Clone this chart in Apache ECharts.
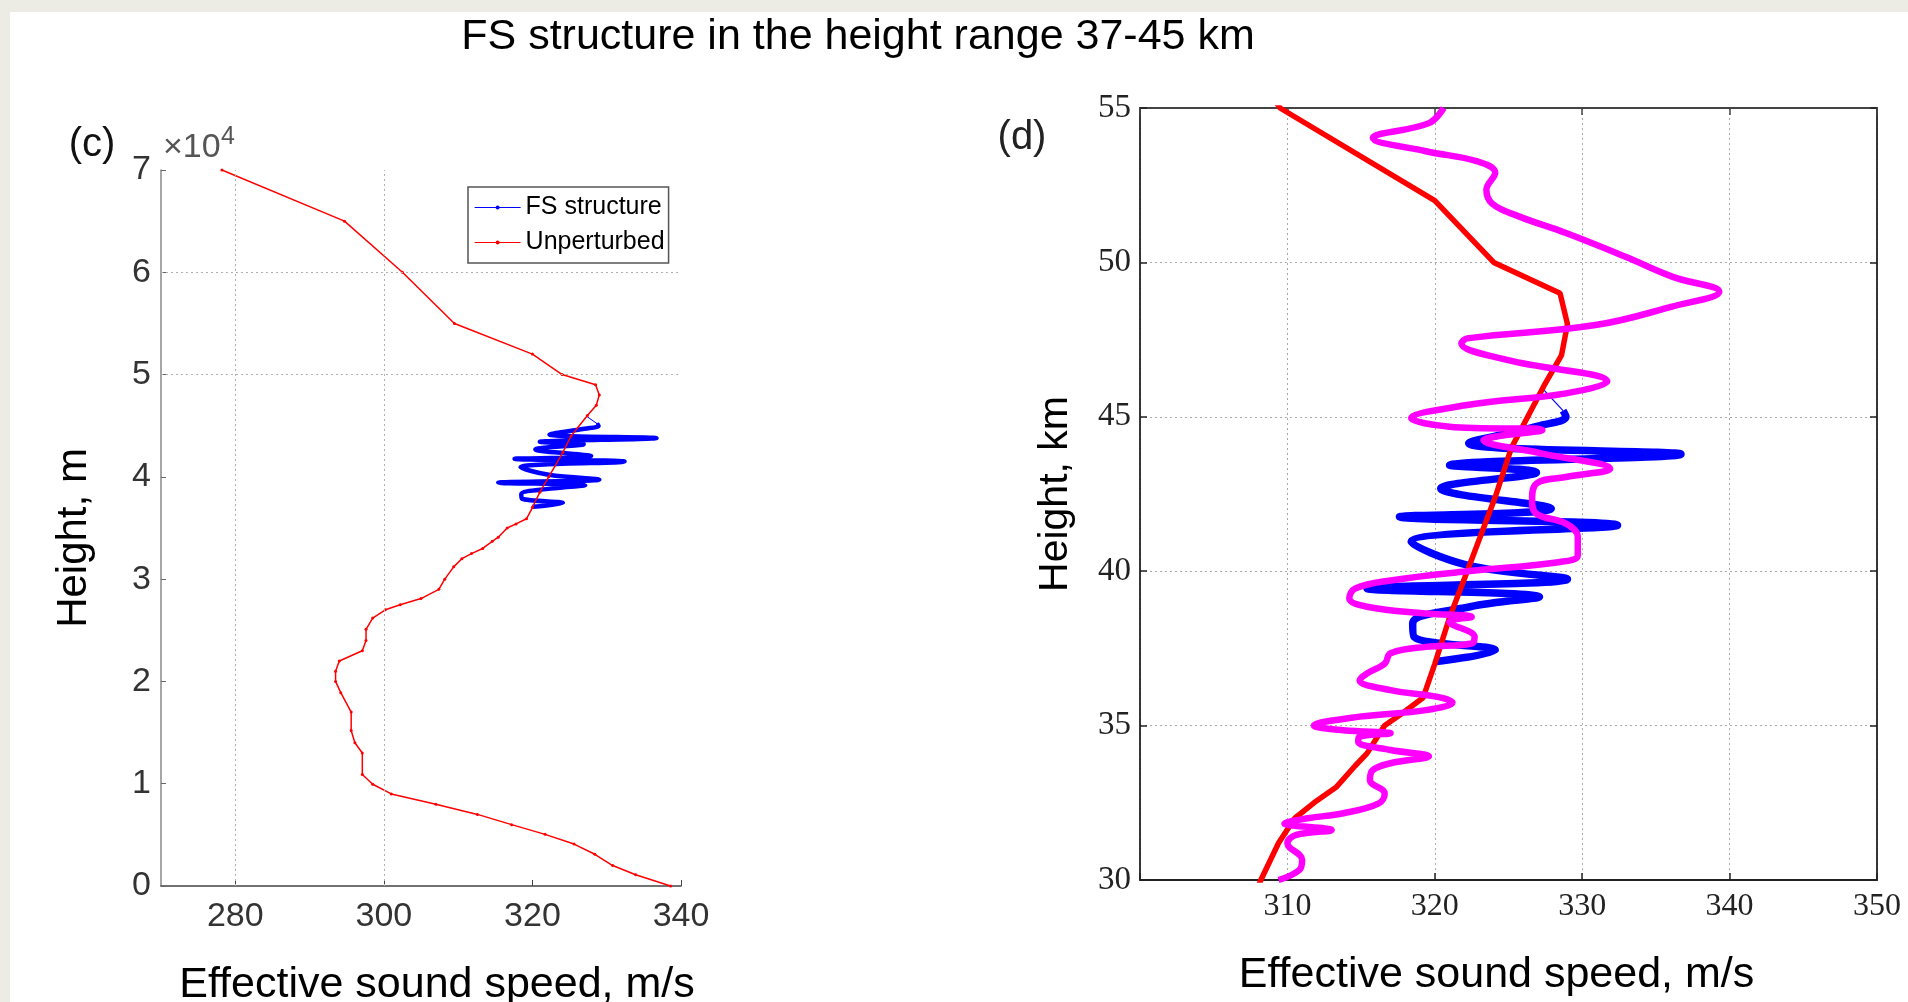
<!DOCTYPE html>
<html>
<head>
<meta charset="utf-8">
<script src="https://cdn.jsdelivr.net/npm/echarts@6/dist/echarts.min.js"></script>
<style>
  html, body { margin: 0; padding: 0; background: #ecece4; }
  #chart { width: 1908px; height: 1002px; }
</style>
</head>
<body>
<div id="chart"></div>
<script>
// ---------- data ----------
// Unperturbed effective sound speed profile (height km, speed m/s)
const unpertHeightKm = [0, 1.1, 2.0, 3.1, 4.1, 5.05, 6.0, 7.0, 8.0, 9.0,
  9.95, 10.9, 13.0, 14.0, 15.2, 17.0, 18.9, 20.0, 21.0, 22.0,
  23.0, 24.0, 25.1, 26.2, 27.0, 27.5, 28.1, 29.0, 30.0, 31.2,
  32.0, 32.5, 33.0, 33.7, 34.1, 35.0, 35.4, 35.9, 37.0, 38.5,
  40.0, 42.4, 44.0, 46.0, 47.0, 48.0, 49.0, 50.0, 52.0, 55.0,
  60.0, 65.0, 70.0];
const unpertSpeed = [338.6, 333.9, 330.8, 328.4, 325.6, 321.7, 317.2, 312.6, 307.0, 301.0,
  298.5, 297.1, 297.1, 296.1, 295.6, 295.6, 294.2, 293.5, 293.5, 294.0,
  297.1, 297.6, 297.6, 298.5, 300.2, 302.2, 305.0, 307.4, 308.2, 309.4,
  310.5, 311.8, 313.3, 314.6, 315.4, 316.6, 317.8, 319.2, 320.0, 321.0,
  322.2, 324.1, 325.2, 327.4, 328.6, 329.0, 328.5, 324.0, 320.0, 309.5,
  302.5, 294.7, 278.2];

// FS structure (height km, speed m/s); first point is the thin joint to the profile
const fsHeightKm = [45.92, 45.2, 45.0, 44.7, 44.14, 43.79, 43.43, 43.2, 42.68, 42.03,
  41.76, 41.49, 40.95, 40.2, 39.74, 39.44, 39.17, 38.85, 38.31, 37.87, 37.44, 37.07];
const fsSpeed = [327.3, 328.7, 328.9, 327.0, 322.3, 336.7, 321.0, 326.9, 320.4, 327.9,
  317.6, 332.4, 318.4, 322.2, 329.0, 315.4, 327.1, 322.4, 318.5, 318.6, 324.1, 320.0];

// Magenta perturbed profile in panel (d)
const magHeightKm = [55.0, 54.51, 54.03, 53.6, 53.27, 52.9, 52.35, 51.9, 51.49, 50.95,
  50.19, 49.54, 49.05, 48.57, 47.97, 47.54, 47.38, 46.84, 46.14, 45.76,
  45.38, 44.95, 44.68, 44.57, 44.24, 43.81, 43.32, 43.05, 42.84, 42.3,
  41.86, 41.54, 41.11, 40.52, 40.3, 40.0, 39.7, 39.44, 39.12, 38.85,
  38.63, 38.52, 38.36, 37.87, 37.66, 37.55, 37.34, 37.0, 36.69, 36.47,
  36.15, 35.93, 35.75, 35.5, 35.29, 35.0, 34.85, 34.75, 34.64, 34.48,
  34.21, 34.01, 33.78, 33.56, 33.24, 32.8, 32.48, 32.16, 32.0, 31.83,
  31.62, 31.46, 31.19, 30.65, 30.32, 30.0];
const magSpeed = [320.6, 319.6, 315.8, 319.4, 322.9, 324.1, 323.5, 323.9, 325.7, 328.9,
  332.9, 336.1, 339.3, 336.1, 330.9, 322.2, 321.8, 324.9, 331.7, 328.9,
  322.2, 318.4, 321.0, 327.3, 323.3, 327.3, 331.9, 328.9, 326.9, 326.6,
  326.9, 328.9, 329.7, 329.7, 328.5, 322.2, 317.0, 314.6, 314.2, 315.4,
  319.4, 322.5, 321.0, 322.7, 322.5, 319.4, 317.0, 316.6, 315.4, 314.9,
  317.0, 320.2, 321.2, 319.4, 314.9, 311.8, 313.8, 317.0, 314.9, 314.8,
  317.0, 319.6, 317.0, 315.8, 315.6, 316.6, 316.2, 313.8, 311.4, 309.8,
  313.0, 310.6, 310.0, 311.0, 310.8, 309.4];

// tick labels
const leftXTicks = [280, 300, 320, 340];
const leftYTicks = [0, 1, 2, 3, 4, 5, 6, 7];          // x 10^4 m
const rightXTicks = [310, 320, 330, 340, 350];
const rightYTicks = [30, 35, 40, 45, 50, 55];

// ---------- build ----------
const pairs = (sp, hk, scale) => sp.map((v, i) => [v, hk[i] * scale]);
const unpertM = pairs(unpertSpeed, unpertHeightKm, 1000);
const unpertKm = pairs(unpertSpeed, unpertHeightKm, 1);
const fsM = pairs(fsSpeed, fsHeightKm, 1000);
const fsKm = pairs(fsSpeed, fsHeightKm, 1);
const magKm = pairs(magSpeed, magHeightKm, 1);

const SANS = '"Liberation Sans", Arial, sans-serif';
const SERIF = '"Liberation Serif", "Times New Roman", serif';
const BLUE = '#0000ff', RED = '#ff0000', MAG = '#ff00ff';

const chart = echarts.init(document.getElementById('chart'), null, { renderer: 'canvas' });

const option = {
  animation: false,
  backgroundColor: '#ecece4',
  graphic: [
    { type: 'rect', z: -100, shape: { x: 10, y: 12, width: 1898, height: 990 }, style: { fill: '#ffffff' } },
    { type: 'text', x: 858, y: 37, style: { text: 'FS structure in the height range 37-45 km', font: '43px ' + SANS, fill: '#000', align: 'center', verticalAlign: 'middle', textAlign: 'center', textVerticalAlign: 'middle' } },
    { type: 'text', x: 92, y: 145, style: { text: '(c)', font: '40px ' + SANS, fill: '#111', align: 'center', verticalAlign: 'middle', textAlign: 'center', textVerticalAlign: 'middle' } },
    { type: 'text', x: 1022, y: 138, style: { text: '(d)', font: '40px ' + SANS, fill: '#222', align: 'center', verticalAlign: 'middle', textAlign: 'center', textVerticalAlign: 'middle' } },
    { type: 'text', x: 163, y: 165, style: { text: '\u00d710', font: '34px ' + SANS, fill: '#555', align: 'left', verticalAlign: 'bottom', textAlign: 'left', textVerticalAlign: 'bottom' } },
    { type: 'text', x: 221, y: 150, style: { text: '4', font: '25px ' + SANS, fill: '#555', align: 'left', verticalAlign: 'bottom', textAlign: 'left', textVerticalAlign: 'bottom' } }
  ],
  legend: {
    data: ['FS structure', 'Unperturbed'],
    orient: 'vertical',
    left: 468, top: 187,
    padding: [8, 4, 8, 6],
    itemGap: 10,
    itemWidth: 46, itemHeight: 5,
    backgroundColor: '#fff',
    borderColor: '#555', borderWidth: 1.5,
    lineStyle: { width: 1.2 },
    textStyle: { fontFamily: SANS, fontSize: 25, color: '#000' },
    selectedMode: false
  },
  grid: [
    { left: 161, top: 170, width: 520, height: 716, outerBoundsMode: 'none', containLabel: false },
    { left: 1140, top: 108, width: 737, height: 772, outerBoundsMode: 'none', containLabel: false }
  ],
  xAxis: [
    {
      gridIndex: 0, type: 'value', min: 270, max: 340, position: 'bottom',
      axisLine: { show: true, onZero: false, lineStyle: { color: '#444', width: 1.5 } },
      axisTick: { show: true, inside: true, length: 6, customValues: leftXTicks, lineStyle: { color: '#444' } },
      axisLabel: { customValues: leftXTicks, fontFamily: SANS, fontSize: 34, color: '#333', margin: 14 },
      splitLine: { show: false },
      name: 'Effective sound speed, m/s', nameLocation: 'middle', nameGap: 78,
      nameTextStyle: { fontFamily: SANS, fontSize: 43, color: '#000', padding: [0, 0, 0, 32] }
    },
    {
      gridIndex: 1, type: 'value', min: 300, max: 350, interval: 10, position: 'bottom',
      axisLine: { show: true, onZero: false, lineStyle: { color: '#222', width: 1.8 } },
      axisTick: { show: true, inside: true, length: 7, lineStyle: { color: '#222', width: 1.5 } },
      axisLabel: { customValues: rightXTicks, fontFamily: SERIF, fontSize: 32, color: '#222', margin: 11 },
      splitLine: { show: true, lineStyle: { color: '#aaa', type: [2, 3], width: 1 } },
      name: 'Effective sound speed, m/s', nameLocation: 'middle', nameGap: 74,
      nameTextStyle: { fontFamily: SANS, fontSize: 43, color: '#000', padding: [0, 24, 0, 0] }
    },
    {
      gridIndex: 1, type: 'value', min: 300, max: 350, interval: 10, position: 'top',
      axisLine: { show: true, onZero: false, lineStyle: { color: '#444', width: 2.2 } },
      axisTick: { show: true, inside: true, length: 7, lineStyle: { color: '#444', width: 1.5 } },
      axisLabel: { show: false },
      splitLine: { show: false }
    }
  ],
  yAxis: [
    {
      gridIndex: 0, type: 'value', min: 0, max: 70000, interval: 10000,
      axisLine: { show: true, onZero: false, lineStyle: { color: '#888', width: 1.5 } },
      axisTick: { show: true, inside: true, length: 5, lineStyle: { color: '#666' } },
      axisLabel: { fontFamily: SANS, fontSize: 34, color: '#333', margin: 10,
        formatter: v => String(leftYTicks[Math.round(v / 10000)]) },
      splitLine: { show: false },
      name: 'Height, m', nameLocation: 'middle', nameGap: 66, nameRotate: 90,
      nameTextStyle: { fontFamily: SANS, fontSize: 42, color: '#000', padding: [0, 20, 0, 0] }
    },
    {
      gridIndex: 1, type: 'value', min: 30, max: 55, interval: 5,
      axisLine: { show: true, onZero: false, lineStyle: { color: '#222', width: 1.8 } },
      axisTick: { show: true, inside: true, length: 7, lineStyle: { color: '#222', width: 1.5 } },
      axisLabel: { customValues: rightYTicks, fontFamily: SERIF, fontSize: 33, color: '#222', margin: 9 },
      splitLine: { show: true, lineStyle: { color: '#aaa', type: [2, 3], width: 1 } },
      name: 'Height, km', nameLocation: 'middle', nameGap: 64, nameRotate: 90,
      nameTextStyle: { fontFamily: SANS, fontSize: 41, color: '#000' }
    },
    {
      gridIndex: 1, type: 'value', min: 30, max: 55, interval: 5, position: 'right',
      axisLine: { show: true, onZero: false, lineStyle: { color: '#222', width: 1.8 } },
      axisTick: { show: true, inside: true, length: 7, lineStyle: { color: '#222', width: 1.5 } },
      axisLabel: { show: false },
      splitLine: { show: false }
    }
  ],
  series: [
    // panel (c) reference grid lines
    {
      name: 'grid-c', type: 'line', xAxisIndex: 0, yAxisIndex: 0, data: [], z: 1, silent: true,
      markLine: {
        silent: true, symbol: ['none', 'none'], label: { show: false },
        lineStyle: { color: '#b0b0b0', type: [2, 3], width: 1 },
        data: [{ xAxis: 280 }, { xAxis: 300 }, { yAxis: 50000 }, { yAxis: 60000 }]
      }
    },
    // panel (c)
    {
      name: 'FS structure', type: 'line', xAxisIndex: 0, yAxisIndex: 0, z: 3,
      data: fsM.slice(1), smooth: 0.4, symbol: 'circle', symbolSize: 2, showSymbol: true,
      lineStyle: { color: BLUE, width: 4.5 }, itemStyle: { color: BLUE }
    },
    {
      name: 'fs-joint-c', type: 'line', xAxisIndex: 0, yAxisIndex: 0, z: 3,
      data: fsM.slice(0, 2), symbol: 'none', lineStyle: { color: BLUE, width: 1 }
    },
    {
      name: 'Unperturbed', type: 'line', xAxisIndex: 0, yAxisIndex: 0, z: 4,
      data: unpertM, symbol: 'circle', symbolSize: 3, showSymbol: true,
      lineStyle: { color: RED, width: 1.5 }, itemStyle: { color: RED }
    },
    // panel (d)
    {
      name: 'FS structure (d)', type: 'line', xAxisIndex: 1, yAxisIndex: 1, z: 3,
      data: fsKm.slice(1), smooth: 0.4, symbol: 'none',
      lineStyle: { color: BLUE, width: 7.5 }
    },
    {
      name: 'fs-joint-d', type: 'line', xAxisIndex: 1, yAxisIndex: 1, z: 3,
      data: fsKm.slice(0, 2), symbol: 'none', lineStyle: { color: BLUE, width: 1.2 }
    },
    {
      name: 'Unperturbed (d)', type: 'line', xAxisIndex: 1, yAxisIndex: 1, z: 4,
      data: unpertKm, symbol: 'none',
      lineStyle: { color: RED, width: 5.5 }
    },
    {
      name: 'Perturbed (d)', type: 'line', xAxisIndex: 1, yAxisIndex: 1, z: 5,
      data: magKm, smooth: 0.4, symbol: 'none',
      lineStyle: { color: MAG, width: 6.5 }
    }
  ]
};
chart.setOption(option);
</script>
</body>
</html>
